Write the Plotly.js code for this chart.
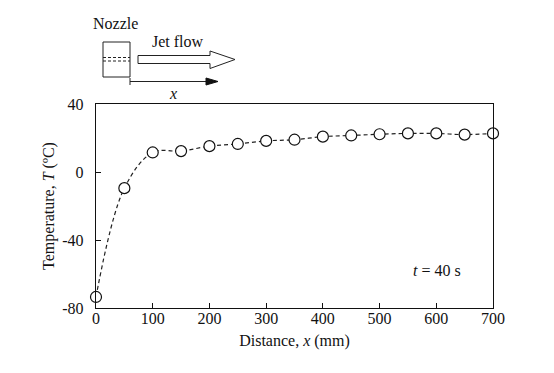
<!DOCTYPE html>
<html><head><meta charset="utf-8">
<script src="https://cdn.plot.ly/plotly-3.0.1.min.js"></script>
<style>html,body{margin:0;padding:0;background:#fff}#c{width:554px;height:373px}</style>
</head><body><div id="c"></div>
<script>
const distance = [0, 50, 100, 150, 200, 250, 300, 350, 400, 450, 500, 550, 600, 650, 700];
const temperature = [-73.5, -9.5, 11.5, 12.3, 15.2, 16.5, 18.3, 19.0, 20.8, 21.5, 22.2, 22.7, 22.7, 22.0, 22.7];
const xTicks = [0, 100, 200, 300, 400, 500, 600, 700];
const yTicks = [-80, -40, 0, 40];

const W = 554, H = 373, L = 96, R = 61, T = 104, B = 65;
const pw = W - L - R, ph = H - T - B;
const px = v => (v - L) / pw;
const py = v => (H - B - v) / ph;
const font = {family: 'Liberation Serif, Times New Roman, serif', color: '#111', size: 16};

const shapes = [
  {type:'rect', xref:'paper', yref:'paper', x0:px(103), x1:px(130), y0:py(42), y1:py(77), line:{color:'#222', width:1}},
  {type:'line', xref:'paper', yref:'paper', x0:px(103), x1:px(130), y0:py(57.5), y1:py(57.5), line:{color:'#222', width:1, dash:'3px,2px'}},
  {type:'line', xref:'paper', yref:'paper', x0:px(103), x1:px(130), y0:py(61), y1:py(61), line:{color:'#222', width:1, dash:'3px,2px'}},
  {type:'path', xref:'paper', yref:'paper', line:{color:'#222', width:1},
   path:`M ${px(138)},${py(55.5)} L ${px(210)},${py(55.5)} L ${px(210)},${py(51)} L ${px(235)},${py(59.5)} L ${px(210)},${py(68.5)} L ${px(210)},${py(63.5)} L ${px(138)},${py(63.5)} Z`},
  {type:'line', xref:'paper', yref:'paper', x0:px(130), x1:px(208), y0:py(81.5), y1:py(81.5), line:{color:'#222', width:1}},
  {type:'line', xref:'paper', yref:'paper', x0:px(130), x1:px(130), y0:py(78), y1:py(85), line:{color:'#222', width:1}},
  {type:'path', xref:'paper', yref:'paper', fillcolor:'#111', line:{color:'#111', width:1},
   path:`M ${px(206)},${py(78)} L ${px(218)},${py(81.5)} L ${px(206)},${py(85)} Z`}
];

const annotations = [
  {xref:'paper', yref:'paper', x:px(115), y:py(23), text:'Nozzle', showarrow:false, font:font, xanchor:'center', yanchor:'middle'},
  {xref:'paper', yref:'paper', x:px(178), y:py(41), text:'Jet flow', showarrow:false, font:font, xanchor:'center', yanchor:'middle'},
  {xref:'paper', yref:'paper', x:px(173), y:py(93), text:'<i>x</i>', showarrow:false, font:font, xanchor:'center', yanchor:'middle'},
  {xref:'paper', yref:'paper', x:px(437), y:py(270), text:'<i>t</i> = 40 s', showarrow:false, font:font, xanchor:'center', yanchor:'middle'}
];

const trace = {
  x: distance, y: temperature, type: 'scatter', mode: 'lines+markers',
  line: {color: '#222', width: 1.2, dash: '4px,3px', shape: 'spline', smoothing: 1},
  marker: {symbol: 'circle', size: 11, color: '#fff', line: {color: '#111', width: 1.2}},
  cliponaxis: false
};

const layout = {
  width: W, height: H,
  margin: {l: L, r: R, t: T, b: B},
  paper_bgcolor: '#fff', plot_bgcolor: '#fff',
  showlegend: false,
  font: font,
  xaxis: {
    range: [0, 700], tickvals: xTicks, ticktext: xTicks.map(String),
    ticks: 'inside', ticklen: 5, tickwidth: 1, tickcolor: '#111',
    showline: true, linecolor: '#111', linewidth: 1.3, mirror: true,
    showgrid: false, zeroline: false, ticklabelstandoff: -5,
    tickfont: font,
    title: {text: 'Distance, <i>x</i> (mm)', font: font, standoff: 9}
  },
  yaxis: {
    range: [-80, 40], tickvals: yTicks, ticktext: yTicks.map(String),
    ticks: 'inside', ticklen: 5, tickwidth: 1, tickcolor: '#111',
    showline: true, linecolor: '#111', linewidth: 1.3, mirror: true,
    showgrid: false, zeroline: false, ticklabelstandoff: 8,
    tickfont: font,
    title: {text: 'Temperature, <i>T</i> (ºC)', font: font, standoff: 3}
  },
  shapes: shapes,
  annotations: annotations
};

Plotly.newPlot('c', [trace], layout, {displayModeBar: false, staticPlot: true});
</script>
</body></html>
